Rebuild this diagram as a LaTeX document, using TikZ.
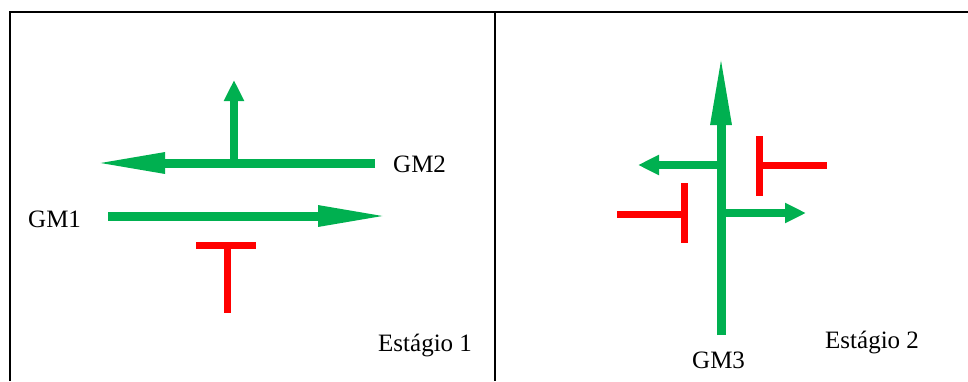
\documentclass[tikz,border=0pt]{standalone}
\usepackage{fontspec}
\setmainfont{Liberation Serif}
\usetikzlibrary{positioning,arrows.meta,calc}
\definecolor{gmgreen}{HTML}{00B050}
\definecolor{gmred}{HTML}{FF0000}
\tikzset{
  longarrow/.style={draw=gmgreen, line width=9pt, -{Triangle[length=72pt,width=19pt]}},
  shortarrow/.style={draw=gmgreen, line width=8pt, -{Triangle[length=21pt,width=19pt]}},
  block/.style={draw=gmred, line width=7pt},
  lbl/.style={font=\fontsize{25}{30}\selectfont, inner sep=0pt, anchor=base west},
  frame/.style={draw=black, line width=1.2pt}
}

\begin{document}
\begin{tikzpicture}[x=1pt, y=-1pt]
    \useasboundingbox (0,0) rectangle (968,381);

    % frame
    \draw[frame] (10,381) -- (10,12) -- (968,12);
    \draw[frame] (495,12) -- (495,381);

    % stage 1
    \coordinate (gm2tail) at (375,163);
    \coordinate (gm2tip)  at (93,163);
    \coordinate (jn)      at (234,163);
    \coordinate (uptip)   at (234,80);
    \coordinate (gm1tail) at (108,216);
    \coordinate (gm1tip)  at (390,216);
    \coordinate (barl)    at (196,245.5);
    \coordinate (barr)    at (256,245.5);
    \coordinate (bartop)  at (227,242);
    \coordinate (barbot)  at (227,313);

    \draw[longarrow]  (gm2tail) -- (gm2tip);
    \draw[shortarrow] (jn) -- (uptip);
    \draw[longarrow]  (gm1tail) -- (gm1tip);
    \draw[block] (barl) -- (barr);
    \draw[block] (bartop) -- (barbot);

    \node[lbl] (gm1) at (28,227) {GM1};
    \node[lbl] (gm2) at (393,172) {GM2};
    \node[lbl] (st1) at (378,351) {Estágio 1};

    % stage 2
    \coordinate (gm3tail) at (721,335);
    \coordinate (gm3tip)  at (721,53);
    \coordinate (lj)      at (721,165);
    \coordinate (ltip)    at (638,165);
    \coordinate (rj)      at (721,213);
    \coordinate (rtip)    at (806,213);

    \draw[longarrow]  (gm3tail) -- (gm3tip);
    \draw[shortarrow] (lj) -- (ltip);
    \draw[shortarrow] (rj) -- (rtip);

    \coordinate (aup)  at (759,136);
    \coordinate (adn)  at (759,196);
    \coordinate (aend) at (827,165);
    \draw[block] (aup) -- (adn);
    \draw[block] (aup |- aend) -- (aend);

    \coordinate (bup)  at (684,183);
    \coordinate (bdn)  at (684,243);
    \coordinate (bend) at (617,214);
    \draw[block] (bup) -- (bdn);
    \draw[block] (bup |- bend) -- (bend);

    \node[lbl] (gm3) at (692,368) {GM3};
    \node[lbl] (st2) at (825,348) {Estágio 2};
\end{tikzpicture}
\end{document}
